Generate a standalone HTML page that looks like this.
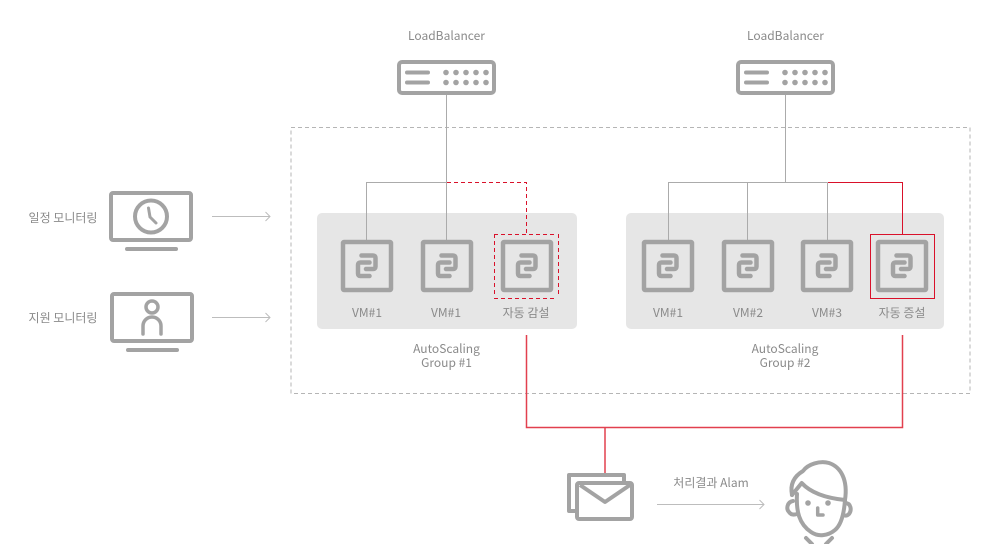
<!DOCTYPE html>
<html><head><meta charset="utf-8"><style>
html,body{margin:0;padding:0;background:#fff}
body{position:relative;width:984px;height:544px;overflow:hidden}
svg{display:block}
text{font-family:"Noto Sans CJK KR","Liberation Sans",sans-serif;font-size:12px;fill:#8a8a8a;text-anchor:middle;font-weight:400}
</style></head><body>
<svg width="984" height="544" viewBox="0 0 984 544" xmlns="http://www.w3.org/2000/svg">
<defs>
<g id="vm" fill="none" stroke="#a3a3a3">
<rect x="2" y="2" width="48" height="48" rx="1" stroke-width="4.5"/>
<path d="M20.500 15.500H32Q34.500 15.500 34.500 18V26.500Q34.500 29 32 29H25M28.500 36H19.500Q17 36 17 33.500V25Q17 22.500 19.500 22.500H28.500" stroke-width="4.500" stroke-linecap="round"/>
</g>
<g id="lb">
<rect x="2" y="2" width="95" height="31" rx="3" fill="none" stroke="#a3a3a3" stroke-width="4"/>
<path d="M10 12.500H31M10 22.500H31" stroke="#a3a3a3" stroke-width="4" stroke-linecap="round"/>
<g fill="#a3a3a3">
<circle cx="49" cy="12.500" r="2.800"/><circle cx="59" cy="12.500" r="2.800"/><circle cx="69" cy="12.500" r="2.800"/><circle cx="79" cy="12.500" r="2.800"/><circle cx="89" cy="12.500" r="2.800"/>
<circle cx="49" cy="22.500" r="2.800"/><circle cx="59" cy="22.500" r="2.800"/><circle cx="69" cy="22.500" r="2.800"/><circle cx="79" cy="22.500" r="2.800"/><circle cx="89" cy="22.500" r="2.800"/>
</g>
</g>
<g id="mon" fill="none" stroke="#a3a3a3" stroke-width="4">
<rect x="2" y="2" width="80" height="47" rx="2"/>
<path d="M18 58H67" stroke-linecap="round"/>
</g>
<path id="arr" d="M0 .5H58M53.500-4L58 .5L53.500 5" fill="none" stroke="#bdbdbd"/>
</defs>

<path d="M291 127.500H970V393.500H291Z" fill="none" stroke="#b5b5b5" stroke-dasharray="4 3"/>
<rect x="317" y="213" width="260" height="116" rx="5" fill="#e6e6e6"/>
<rect x="626" y="213" width="318" height="116" rx="5" fill="#e6e6e6"/>

<!-- connectors -->
<g fill="none" stroke="#ababab">
<path d="M446.500 95V240M366.500 240V182.500H446.500"/>
<path d="M785.500 95V182.500M668.500 240V182.500H827.500M747.500 182.500V240M827.500 182.500V240"/>
</g>
<path d="M447 182.500H526.500V235" fill="none" stroke="#d9112a" stroke-dasharray="4 3"/>
<path d="M828 182.500H902.500V235" fill="none" stroke="#d9112a"/>
<path d="M526.500 335V427.500H902.500V335M605 427.500V473" fill="none" stroke="#e2404f" stroke-width="1.500"/>

<use href="#lb" x="397" y="60"/>
<use href="#lb" x="736" y="60"/>
<text x="446.500" y="40">LoadBalancer</text>
<text x="785.500" y="40">LoadBalancer</text>

<!-- VMs -->
<use href="#vm" x="341" y="240"/>
<use href="#vm" x="421" y="240"/>
<use href="#vm" x="501" y="240"/>
<use href="#vm" x="642" y="240"/>
<use href="#vm" x="722" y="240"/>
<use href="#vm" x="801" y="240"/>
<use href="#vm" x="876" y="240"/>

<text x="367" y="317">VM#1</text>
<text x="446" y="317">VM#1</text>
<text x="526" y="317">자동 감설</text>
<text x="668" y="317">VM#1</text>
<text x="748" y="317">VM#2</text>
<text x="827" y="317">VM#3</text>
<text x="902" y="317">자동 증설</text>
<text x="446.500" y="353">AutoScaling</text>
<text x="446.500" y="367">Group #1</text>
<text x="785" y="353">AutoScaling</text>
<text x="785" y="367">Group #2</text>

<!-- monitors -->
<use href="#mon" x="109" y="191"/>
<circle cx="151" cy="216.500" r="16" fill="none" stroke="#a3a3a3" stroke-width="4"/>
<path d="M148.500 208L150 217L156 223" fill="none" stroke="#a3a3a3" stroke-width="3" stroke-linecap="round" stroke-linejoin="round"/>
<use href="#mon" x="110" y="292"/>
<circle cx="152" cy="307" r="6" fill="none" stroke="#a3a3a3" stroke-width="3.500"/>
<path d="M143 334V326A9 9 0 0 1 161 326V334" fill="none" stroke="#a3a3a3" stroke-width="3.500" stroke-linecap="round"/>
<text x="63" y="222">일정 모니터링</text>
<text x="63" y="322">지원 모니터링</text>
<use href="#arr" x="212" y="216"/>
<use href="#arr" x="212" y="317"/>

<!-- mail -->
<g fill="none" stroke="#a3a3a3" stroke-width="4" stroke-linejoin="round">
<path d="M577 511H569V475H624V483"/>
<rect x="577" y="483" width="55" height="36" rx="2" fill="#fff"/>
<path d="M580 485L605 502L630 485"/>
</g>
<path d="M657 504.500H764M759.500 500L764 504.500L759.500 509" fill="none" stroke="#bdbdbd"/>
<text x="711" y="487">처리결과 Alam</text>

<!-- person -->
<g fill="none" stroke="#a3a3a3" stroke-width="4" stroke-linecap="round" stroke-linejoin="round">
<path d="M792 495C790 485 793 477 803 471C808 464 820 460.500 829 463C841 467 848 480 845 500"/>
<path d="M792 495L801.700 483C810 492 825 498 845 500"/>
<path d="M797 494C796 511 799 524 811 532C818 537 828 536 835 530C841 525 844 514 845 500"/>
<path d="M793 501C787 502 786 509 789 512C791 515 794 515 797 514"/>
<path d="M845 503C851 503 852 510 849 514C847 516 845 516 843 515"/>
<path d="M817.700 508V515H823" stroke-width="3.500"/>
<path d="M806 538L812 544M832 538L826 544"/>
</g>
<circle cx="808" cy="503" r="2.800" fill="#a3a3a3"/>
<circle cx="828" cy="503" r="2.800" fill="#a3a3a3"/>

<!-- selection boxes: right and bottom edges moved 1px outward as a diagnostic -->
<g fill="#d9112a" shape-rendering="crispEdges">
<rect x="870" y="234" width="65" height="1"/>
<rect x="870" y="234" width="1" height="65"/>
<rect x="934" y="234" width="1" height="65"/>
<rect x="870" y="298" width="65" height="1"/>
<path d="M494 234h4v1h-4zM501 234h4v1h-4zM508 234h4v1h-4zM515 234h4v1h-4zM522 234h4v1h-4zM529 234h4v1h-4zM536 234h4v1h-4zM543 234h4v1h-4zM550 234h4v1h-4z"/>
<path d="M494 298h4v1h-4zM501 298h4v1h-4zM508 298h4v1h-4zM515 298h4v1h-4zM522 298h4v1h-4zM529 298h4v1h-4zM536 298h4v1h-4zM543 298h4v1h-4zM550 298h4v1h-4z"/>
<path d="M494 234v4h1v-4zM494 241v4h1v-4zM494 248v4h1v-4zM494 255v4h1v-4zM494 262v4h1v-4zM494 269v4h1v-4zM494 276v4h1v-4zM494 283v4h1v-4zM494 290v4h1v-4z"/>
<path d="M558 234v4h1v-4zM558 241v4h1v-4zM558 248v4h1v-4zM558 255v4h1v-4zM558 262v4h1v-4zM558 269v4h1v-4zM558 276v4h1v-4zM558 283v4h1v-4zM558 290v4h1v-4z"/>
</g>
</svg>
</body></html>
